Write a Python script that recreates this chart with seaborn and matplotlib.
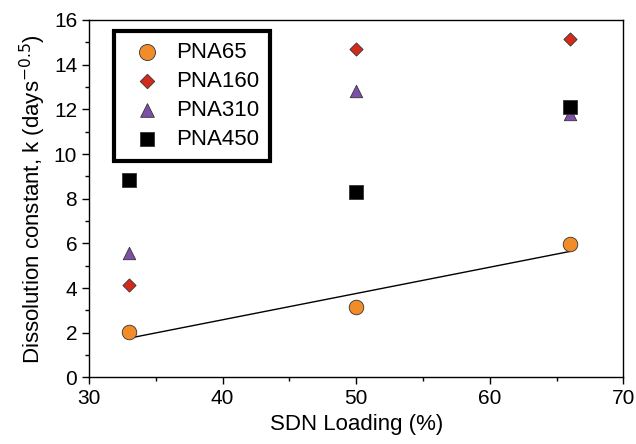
import numpy as np
import pandas as pd
import seaborn as sns
import matplotlib.pyplot as plt
from matplotlib.ticker import MultipleLocator

loading = [33, 50, 66]
pna65 = [2.05, 3.15, 5.95]
pna160 = [4.15, 14.7, 15.15]
pna310 = [5.55, 12.8, 11.8]
pna450 = [8.85, 8.3, 12.1]

series = ["PNA65", "PNA160", "PNA310", "PNA450"]
df = pd.DataFrame({
    "loading": loading * 4,
    "k": pna65 + pna160 + pna310 + pna450,
    "polymer": [s for s in series for _ in loading],
})

sns.set_theme(style="white")
plt.rcParams["font.family"] = ["Liberation Sans", "DejaVu Sans"]
plt.rcParams["text.color"] = "black"
plt.rcParams["axes.labelcolor"] = "black"
plt.rcParams["xtick.color"] = "black"
plt.rcParams["ytick.color"] = "black"

fig, ax = plt.subplots(figsize=(6.36, 4.44), dpi=100)
fig.subplots_adjust(left=0.14, right=0.98, top=0.955, bottom=0.15)

palette = {"PNA65": "#f28c28", "PNA160": "#d42a1c", "PNA310": "#7d4fa8", "PNA450": "#000000"}
markers = {"PNA65": "o", "PNA160": "D", "PNA310": "^", "PNA450": "s"}
sizes = {"PNA65": 110, "PNA160": 45, "PNA310": 80, "PNA450": 90}
for s in series:
    sub = df[df.polymer == s]
    sns.scatterplot(data=sub, x="loading", y="k", ax=ax, color=palette[s],
                    marker=markers[s], s=sizes[s], edgecolor="#333333",
                    linewidth=0.6, label=s, zorder=3)

# linear trend for PNA65
coef = np.polyfit(loading, pna65, 1)
xs = np.array([loading[0], loading[-1]])
ax.plot(xs, np.polyval(coef, xs), color="black", lw=1, zorder=2)

ax.set_xlim(30, 70)
ax.set_ylim(0, 16)
ax.xaxis.set_major_locator(MultipleLocator(10))
ax.xaxis.set_minor_locator(MultipleLocator(5))
ax.yaxis.set_major_locator(MultipleLocator(2))
ax.yaxis.set_minor_locator(MultipleLocator(1))
ax.tick_params(which="both", direction="out", length=5, width=1, color="black",
               bottom=True, left=True, labelsize=15)
ax.tick_params(which="minor", length=3)
for sp in ax.spines.values():
    sp.set_color("black")
    sp.set_linewidth(1)

ax.set_xlabel("SDN Loading (%)", fontsize=16)
ax.set_ylabel("Dissolution constant, k (days$^{-0.5}$)", fontsize=16)

leg = ax.legend(loc="upper left", fontsize=16, frameon=True, fancybox=False,
                borderpad=0.5, labelspacing=0.35, handletextpad=0.3,
                markerscale=1.1, bbox_to_anchor=(0.025, 1.0))
leg.get_frame().set_edgecolor("black")
leg.get_frame().set_linewidth(3)
leg.get_frame().set_alpha(1)

fig.savefig("out.png", dpi=100)
